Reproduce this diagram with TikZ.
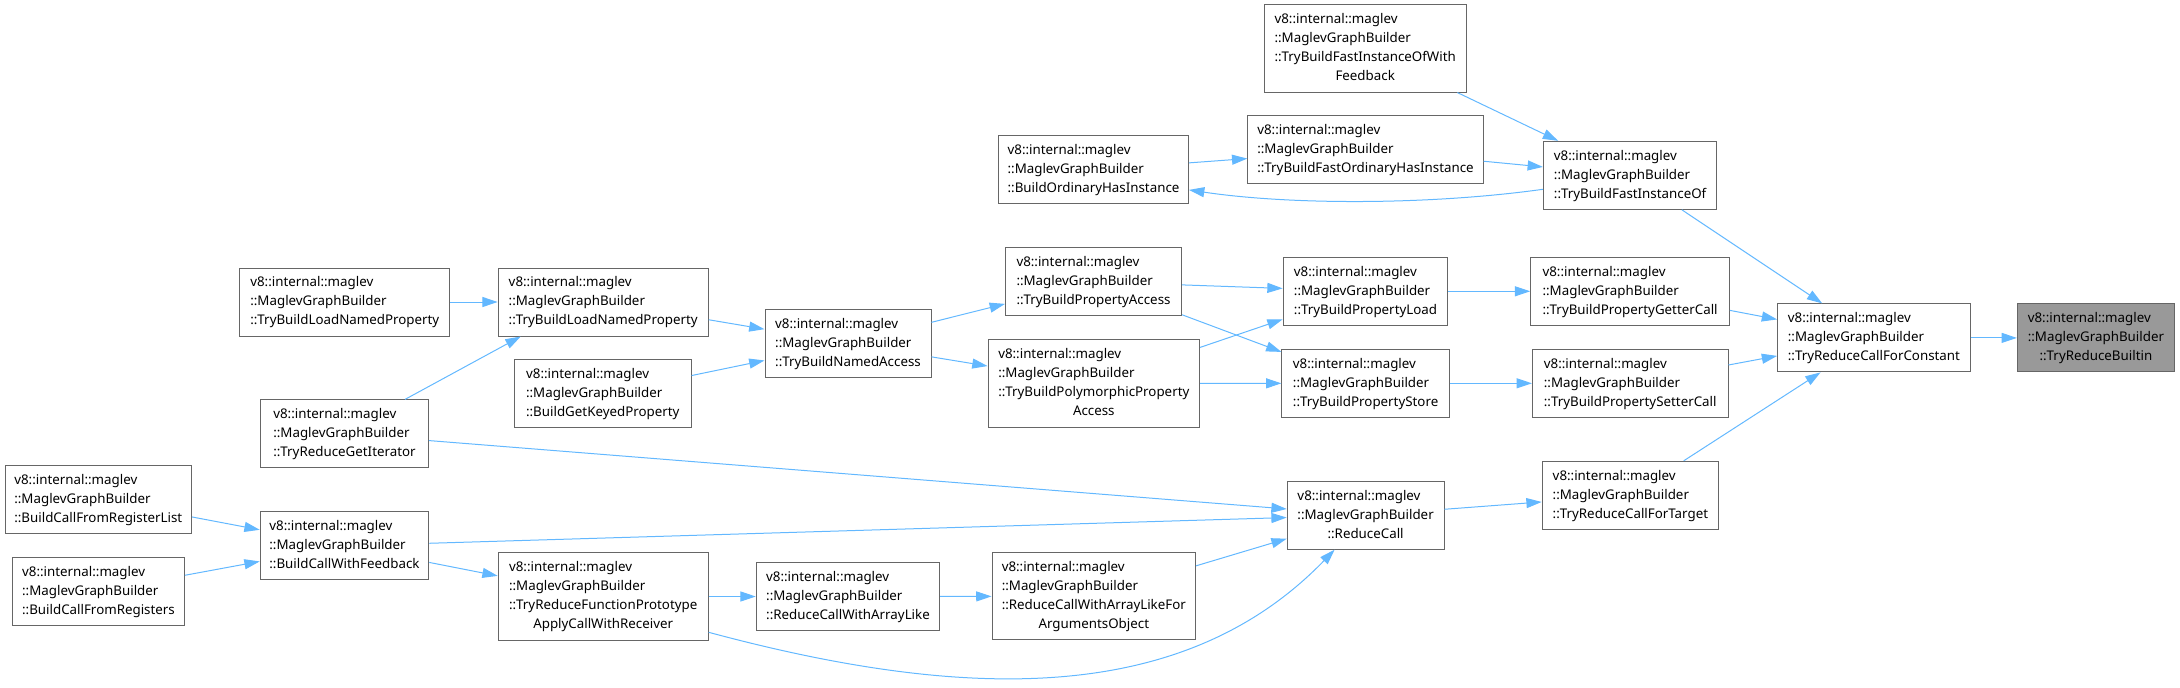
\documentclass[tikz,border=0pt]{standalone}
\usepackage{fontspec}
\setmainfont{Noto Sans}
\usetikzlibrary{arrows.meta, calc}
\definecolor{edgeblue}{RGB}{99,184,255}
\definecolor{boxgray}{RGB}{102,102,102}
\definecolor{rootgray}{RGB}{153,153,153}
% label: two fixed lines, optional extra lines, centred last line
\newcommand{\mgbtext}[2]{\begin{tabular}{@{}l@{}}v8::internal::maglev\\::MaglevGraphBuilder#1\\\multicolumn{1}{@{}c@{}}{#2}\end{tabular}}

\begin{document}
\begin{tikzpicture}[
    x=0.75pt, y=-0.75pt,
    fnbox/.style={
        rectangle,
        draw=boxgray,
        fill=white,
        line width=0.75pt,
        inner sep=0pt,
        minimum height=51pt,
        font=\fontsize{10pt}{14.25pt}\selectfont
    },
    tallbox/.style={
        fnbox,
        minimum height=65.5pt
    },
    rootbox/.style={
        fnbox,
        fill=rootgray
    },
    callarrow/.style={
        -{Triangle[length=11.5pt,width=7.5pt]},
        line width=0.75pt,
        draw=edgeblue
    }
]
\useasboundingbox (0,0) rectangle (2180,688);

% Root and its direct caller
\node[rootbox, minimum width=117.75pt] (trb) at (2095.9,337.9) {\mgbtext{}{::TryReduceBuiltin}};
\node[fnbox, minimum width=144.4pt] (trcfc) at (1873.9,337.9) {\mgbtext{}{::TryReduceCallForConstant}};

% Column 7
\node[fnbox, minimum width=130pt] (tbfio) at (1630.1,175.3) {\mgbtext{}{::TryBuildFastInstanceOf}};
\node[fnbox, minimum width=149pt] (getter) at (1630.1,291.3) {\mgbtext{}{::TryBuildPropertyGetterCall}};
\node[fnbox, minimum width=146.7pt] (setter) at (1630.2,383.3) {\mgbtext{}{::TryBuildPropertySetterCall}};
\node[fnbox, minimum width=132.3pt] (trcft) at (1630.4,495.3) {\mgbtext{}{::TryReduceCallForTarget}};

% Column 6
\node[tallbox, minimum width=151.2pt] (tbfiowf) at (1365.2,48.4) {\mgbtext{\\::TryBuildFastInstanceOfWith}{Feedback}};
\node[fnbox, minimum width=176.5pt] (tbfohi) at (1365.5,149.9) {\mgbtext{}{::TryBuildFastOrdinaryHasInstance}};
\node[fnbox, minimum width=123.5pt] (tbpload) at (1365.5,291.3) {\mgbtext{}{::TryBuildPropertyLoad}};
\node[fnbox, minimum width=125.5pt] (tbpstore) at (1365.6,383.3) {\mgbtext{}{::TryBuildPropertyStore}};
\node[fnbox, minimum width=117.6pt] (rc) at (1365.6,515.2) {\mgbtext{}{::ReduceCall}};

% Column 5
\node[fnbox, minimum width=142.5pt] (bohi) at (1093.5,169.9) {\mgbtext{}{::BuildOrdinaryHasInstance}};
\node[fnbox, minimum width=132pt] (tbpa) at (1093.5,281.8) {\mgbtext{}{::TryBuildPropertyAccess}};
\node[tallbox, minimum width=158.6pt] (tbpolypa) at (1093.8,383.4) {\mgbtext{\\::TryBuildPolymorphicProperty}{Access}};
\node[tallbox, minimum width=152.6pt] (rcwalfao) at (1093.8,596.3) {\mgbtext{\\::ReduceCallWithArrayLikeFor}{ArgumentsObject}};

% Column 4
\node[fnbox, minimum width=124.5pt] (tbna) at (848,343.2) {\mgbtext{}{::TryBuildNamedAccess}};
\node[fnbox, minimum width=137.6pt] (rcwal) at (848,596.5) {\mgbtext{}{::ReduceCallWithArrayLike}};

% Column 3
\node[fnbox, minimum width=157.5pt] (tblnpb) at (603.2,302) {\mgbtext{}{::TryBuildLoadNamedProperty}};
\node[fnbox, minimum width=132.4pt] (bgkp) at (602.8,393.9) {\mgbtext{}{::BuildGetKeyedProperty}};
\node[tallbox, minimum width=157.5pt] (trfp) at (603.2,596.5) {\mgbtext{\\::TryReduceFunctionPrototype}{ApplyCallWithReceiver}};

% Column 2
\node[fnbox, minimum width=157.5pt] (tblnpa) at (344.8,302) {\mgbtext{}{::TryBuildLoadNamedProperty}};
\node[fnbox, minimum width=125.8pt] (trgi) at (344.5,433.9) {\mgbtext{}{::TryReduceGetIterator}};
\node[fnbox, minimum width=126.4pt] (bcwf) at (344.5,545.8) {\mgbtext{}{::BuildCallWithFeedback}};

% Column 1
\node[fnbox, minimum width=139.7pt] (bcfrl) at (98.3,499.2) {\mgbtext{}{::BuildCallFromRegisterList}};
\node[fnbox, minimum width=128.9pt] (bcfr) at (98.5,591.2) {\mgbtext{}{::BuildCallFromRegisters}};

% Calls into the root side
\draw[callarrow] (trcfc) -- (trb);
\draw[callarrow] (tbfio) -- (trcfc);
\draw[callarrow] (getter) -- (trcfc);
\draw[callarrow] (setter) -- (trcfc);
\draw[callarrow] (trcft) -- (trcfc);

% Instance-of group
\draw[callarrow] (tbfiowf) -- (tbfio);
\draw[callarrow] (tbfohi) -- (tbfio);
\draw[callarrow] (bohi) -- (tbfohi);
\draw[callarrow] ($(tbfio.west)+(0,14)$) .. controls +(-115,16) and +(100,15) .. ($(bohi.east)+(0,20)$);

% Property access group
\draw[callarrow] (tbpload) -- (getter);
\draw[callarrow] (tbpstore) -- (setter);
\draw[callarrow] (tbpa) -- (tbpload);
\draw[callarrow] (tbpa) -- (tbpstore);
\draw[callarrow] (tbpolypa) -- (tbpload);
\draw[callarrow] (tbpolypa) -- (tbpstore);
\draw[callarrow] (tbna) -- (tbpa);
\draw[callarrow] (tbna) -- (tbpolypa);
\draw[callarrow] (tblnpb) -- (tbna);
\draw[callarrow] (bgkp) -- (tbna);
\draw[callarrow] (tblnpa) -- (tblnpb);
\draw[callarrow] ($(trgi.north)+(60.5,0)$) -- ($(tblnpb.south west)+(23,0)$);

% Call group
\draw[callarrow] (rc) -- (trcft);
\draw[callarrow] (rcwalfao) -- (rc);
\draw[callarrow] (rcwal) -- (rcwalfao);
\draw[callarrow] (trfp) -- (rcwal);
\draw[callarrow] ($(trfp.east)+(0,35.8)$) .. controls +(260,70) and +(-150,155) .. ($(rc.south)+(-31,0)$);
\draw[callarrow] (trgi) -- (rc);
\draw[callarrow] (bcwf) -- (rc);
\draw[callarrow] (bcwf) -- (trfp);
\draw[callarrow] (bcfrl) -- (bcwf);
\draw[callarrow] (bcfr) -- (bcwf);

\end{tikzpicture}
\end{document}
